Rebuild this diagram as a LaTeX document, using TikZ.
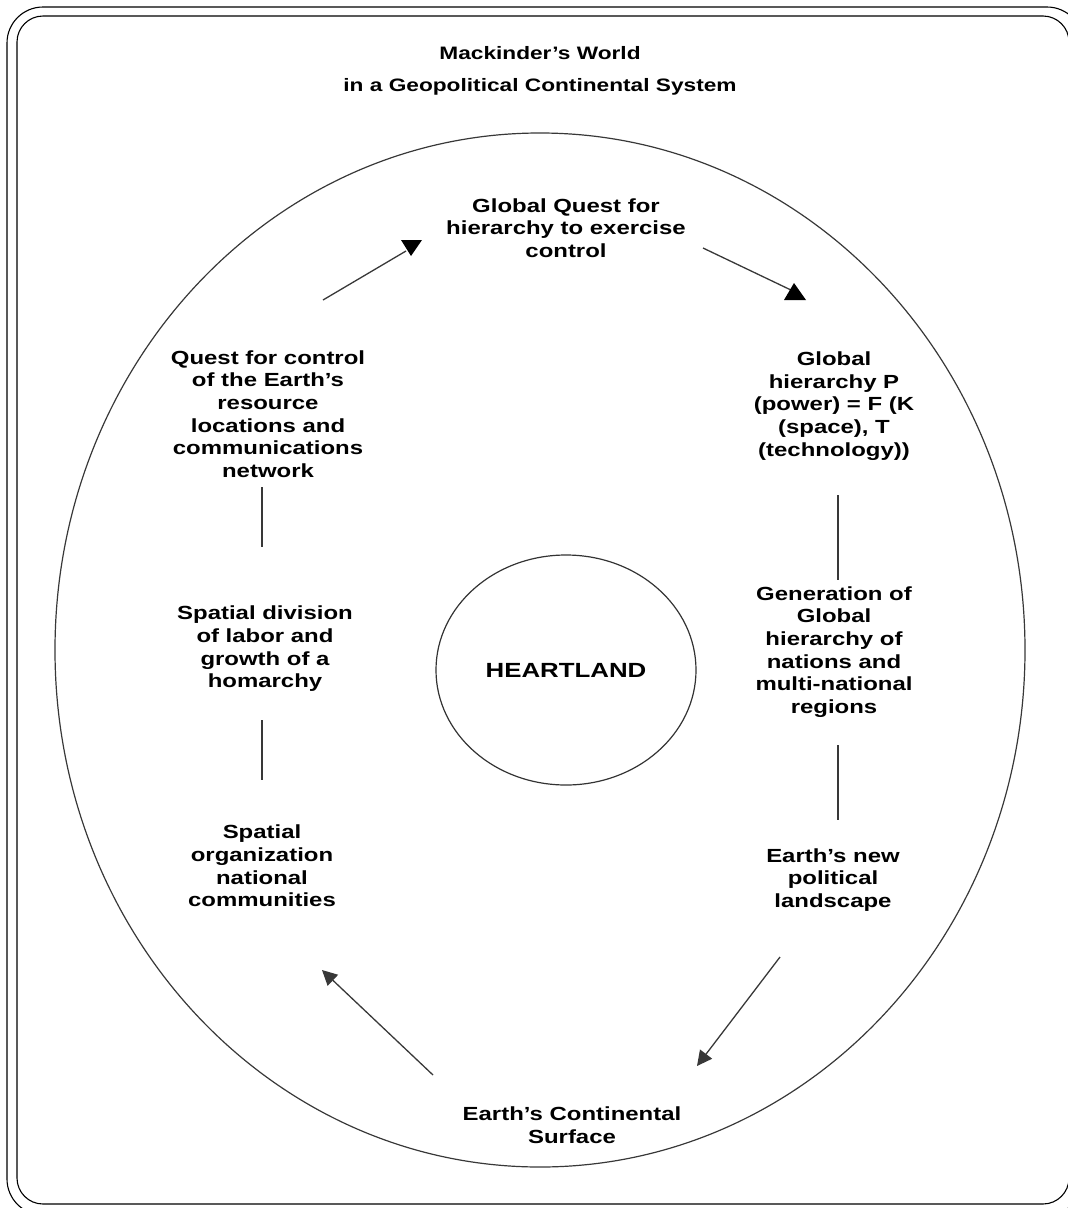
\documentclass[tikz,border=0pt]{standalone}
\usepackage{fontspec}
\setmainfont{Liberation Sans}[FakeStretch=1.26]
\usetikzlibrary{arrows.meta,shapes.geometric}
\begin{document}
\begin{tikzpicture}[x=1pt,y=-1pt,
  lbl/.style={align=center,font=\bfseries\fontsize{19}{22.7}\selectfont,inner sep=0pt},
  conn/.style={draw=black!78,line width=1.3pt},
  frame/.style={draw=black,line width=1.1pt},
  headtip/.style={-{Triangle[length=15pt,width=15pt]}}]
\useasboundingbox (0,0) rectangle (1068,1208);
\clip (0,0) rectangle (1068,1208);
% frames
\draw[frame,rounded corners=36pt] (7,7) rectangle (1083,1215);
\draw[frame,rounded corners=26pt] (17,16) rectangle (1069,1204);
% title
\node[align=center,font=\bfseries\fontsize{18}{32}\selectfont,inner sep=0pt] (title) at (540,71)
  {Mackinder’s World\\in a Geopolitical Continental System};
% big circle
\draw[conn,line width=1.2pt] (540,650) ellipse [x radius=485, y radius=517];
% heartland
\node[draw=black!80,line width=1.2pt,ellipse,minimum width=260pt,minimum height=230pt,
  font=\bfseries\fontsize{20.5}{24}\selectfont] (heart) at (566,670) {HEARTLAND};
% labels
\node[lbl] (top) at (566,228) {Global Quest for\\hierarchy to exercise\\control};
\node[lbl] (r1) at (834,406) {Global\\hierarchy P\\(power) = F (K\\(space), T\\(technology))};
\node[lbl] (r2) at (834,652) {Generation of\\Global\\hierarchy of\\nations and\\multi-national\\regions};
\node[lbl] (r3) at (833,880) {Earth’s new\\political\\landscape};
\node[lbl] (bot) at (572,1125) {Earth’s Continental\\Surface};
\node[lbl] (l3) at (262,866) {Spatial\\organization\\national\\communities};
\node[lbl] (l2) at (265,649) {Spatial division\\of labor and\\growth of a\\homarchy};
\node[lbl] (l1) at (268,414) {Quest for control\\of the Earth’s\\resource\\locations and\\communications\\network};
% vertical connectors
\coordinate (v1a) at (838,495); \coordinate (v1b) at (838,580);
\coordinate (v2a) at (838,745); \coordinate (v2b) at (838,820);
\coordinate (v3a) at (262,487); \coordinate (v3b) at (262,547);
\coordinate (v4a) at (262,720); \coordinate (v4b) at (262,780);
\draw[conn] (v1a) -- (v1b);
\draw[conn] (v2a) -- (v2b);
\draw[conn] (v3a) -- (v3b);
\draw[conn] (v4a) -- (v4b);
% arrows
\coordinate (a1s) at (323,300); \coordinate (a1e) at (406,251);
\draw[conn] (a1s) -- (a1e);
\fill[black] (401,240) -- (422,240) -- (411,256) -- cycle;
\coordinate (a2s) at (703,248); \coordinate (a2e) at (793,291);
\draw[conn] (a2s) -- (a2e);
\fill[black] (784,300) -- (806,300) -- (794,283) -- cycle;
\coordinate (a3s) at (780,957); \coordinate (a3e) at (697,1066);
\draw[conn,headtip] (a3s) -- (a3e);
\coordinate (a4s) at (433,1075); \coordinate (a4e) at (322,970);
\draw[conn,headtip] (a4s) -- (a4e);
\end{tikzpicture}
\end{document}
